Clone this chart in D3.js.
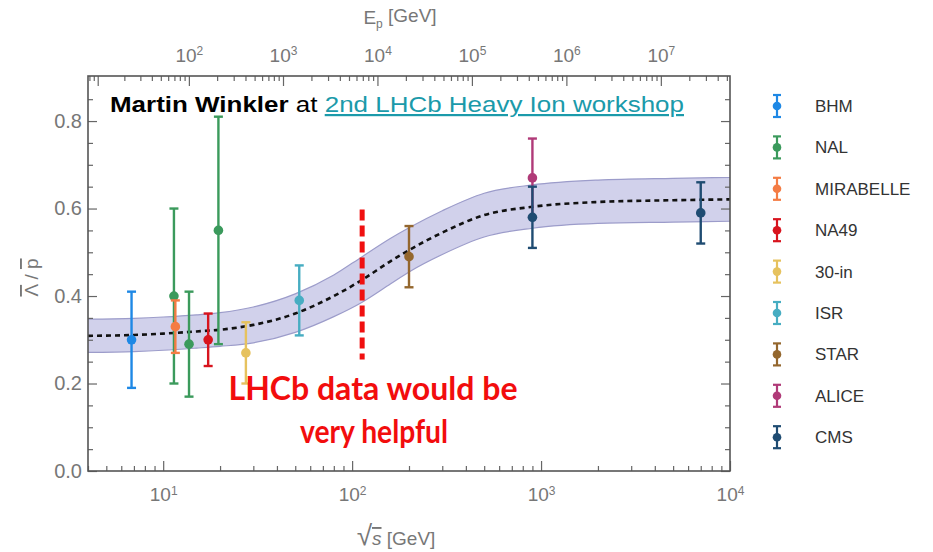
<!DOCTYPE html>
<html>
<head>
<meta charset="utf-8">
<script src="https://cdn.jsdelivr.net/npm/d3@7"></script>
<style>
  body { margin: 0; background: #fff; }
  svg { display: block; font-family: "Liberation Sans", Arial, sans-serif; }
</style>
</head>
<body>
<div id="chart"></div>
<script>
// Experiments (legend order) and their colours
const experiments = ["BHM", "NAL", "MIRABELLE", "NA49", "30-in", "ISR", "STAR", "ALICE", "CMS"];
const expColors = ["#1e88e5", "#3b9a5c", "#f47c44", "#d8141e", "#e6c25e", "#47adc2", "#94672e", "#b03a78", "#1f4c72"];

// Measured points (drawing order)
const pointExp   = ["BHM", "NAL", "MIRABELLE", "NAL", "NA49", "NAL", "30-in", "ISR", "STAR", "ALICE", "CMS", "CMS"];
const pointSqrtS = [6.8, 11.4, 11.6, 13.7, 17.3, 19.6, 27.4, 52.5, 200, 900, 900, 7000];
const pointValue = [0.30, 0.40, 0.33, 0.29, 0.30, 0.55, 0.27, 0.39, 0.49, 0.67, 0.58, 0.59];
const pointErr   = [0.11, 0.20, 0.06, 0.12, 0.06, 0.26, 0.07, 0.08, 0.07, 0.09, 0.07, 0.07];

// Fit curve and its band
const fitSqrtS = [4, 7, 10, 15, 20, 30, 50, 80, 113, 160, 200, 300, 500, 900, 2000, 5000, 10000];
const fitMid   = [0.309, 0.311, 0.314, 0.319, 0.323, 0.334, 0.360, 0.400, 0.437, 0.480, 0.505, 0.545, 0.585, 0.604, 0.615, 0.619, 0.621];
const fitHigh  = [0.347, 0.349, 0.352, 0.357, 0.362, 0.375, 0.405, 0.448, 0.490, 0.532, 0.556, 0.595, 0.635, 0.654, 0.665, 0.669, 0.671];
const fitLow   = [0.271, 0.273, 0.276, 0.281, 0.285, 0.293, 0.317, 0.353, 0.386, 0.428, 0.455, 0.495, 0.535, 0.555, 0.566, 0.569, 0.571];

// LHCb marker
const lhcbSqrtS = 113;
const lhcbRange = [0.255, 0.598];

// Axis ticks
const yTicks = [0, 0.2, 0.4, 0.6, 0.8];
const xTicks = [10, 100, 1000, 10000];
const epTicks = [1e2, 1e3, 1e4, 1e5, 1e6, 1e7];
const protonMass = 0.938;

const width = 933;
const height = 552;
const plot = { left: 88, right: 730, top: 76, bottom: 471 };

const svg = d3.select("#chart")
  .append("svg")
  .attr("width", width)
  .attr("height", height);

// Scales
const x = d3.scaleLog().domain([4, 1e4]).range([plot.left, plot.right]);
const y = d3.scaleLinear().domain([0, 0.903]).range([plot.bottom, plot.top]);
const color = d3.scaleOrdinal().domain(experiments).range(expColors);

// fixed-target beam energy -> sqrt(s)
const epToSqrtS = e => Math.sqrt(2 * protonMass * e + 2 * protonMass * protonMass);

// Band
const fit = fitSqrtS.map((s, i) => ({ s, mid: fitMid[i], lo: fitLow[i], hi: fitHigh[i] }));

svg.append("path")
  .datum(fit)
  .attr("fill", "#c9c9e8")
  .attr("fill-opacity", 0.85)
  .attr("d", d3.area()
    .x(d => x(d.s))
    .y0(d => y(d.lo))
    .y1(d => y(d.hi))
    .curve(d3.curveMonotoneX));

["lo", "hi"].forEach(k => {
  svg.append("path")
    .datum(fit)
    .attr("fill", "none")
    .attr("stroke", "#9c9cca")
    .attr("stroke-width", 1.2)
    .attr("d", d3.line().x(d => x(d.s)).y(d => y(d[k])).curve(d3.curveMonotoneX));
});

svg.append("path")
  .datum(fit)
  .attr("fill", "none")
  .attr("stroke", "#111")
  .attr("stroke-width", 2.6)
  .attr("stroke-dasharray", "5,4")
  .attr("d", d3.line().x(d => x(d.s)).y(d => y(d.mid)).curve(d3.curveMonotoneX));

// Axes (ticks point inwards, Mathematica-style frame)
const minorX = [];
for (let e = 0; e <= 3; e++) {
  for (let m = 1; m < 10; m++) {
    const v = m * Math.pow(10, e);
    if (v >= 4 && v <= 1e4 && m !== 1) minorX.push(v);
  }
}
const minorY = d3.range(0, 0.90, 0.05).filter(v => Math.round(v * 100) % 20 !== 0);

const supFormat = v => "10|" + Math.round(Math.log10(v));

function styleAxis(g) {
  g.select(".domain").remove();
  g.selectAll(".tick line").attr("stroke", "#666").attr("stroke-width", 1.2);
  g.selectAll(".tick text").attr("fill", "#777");
}

function superscript(g) {
  g.selectAll(".tick text").each(function() {
    const [base, exp] = d3.select(this).text().split("|");
    const t = d3.select(this).text("");
    t.append("tspan").text(base);
    t.append("tspan").attr("dy", "-0.55em").attr("font-size", "12px").text(exp);
  });
}

// bottom
svg.append("g")
  .attr("transform", `translate(0,${plot.bottom})`)
  .call(d3.axisBottom(x).tickValues(minorX).tickSize(-5).tickFormat(""))
  .call(styleAxis);
svg.append("g")
  .attr("transform", `translate(0,${plot.bottom})`)
  .call(d3.axisBottom(x).tickValues(xTicks).tickSize(-10).tickPadding(17).tickFormat(supFormat))
  .call(styleAxis)
  .call(superscript)
  .selectAll(".tick text").attr("font-size", "19px");

// left
svg.append("g")
  .attr("transform", `translate(${plot.left},0)`)
  .call(d3.axisLeft(y).tickValues(minorY).tickSize(-5).tickFormat(""))
  .call(styleAxis);
svg.append("g")
  .attr("transform", `translate(${plot.left},0)`)
  .call(d3.axisLeft(y).tickValues(yTicks).tickSize(-9).tickPadding(6).tickFormat(d3.format(".1f")))
  .call(styleAxis)
  .selectAll(".tick text").attr("font-size", "20px");

// right
svg.append("g")
  .attr("transform", `translate(${plot.right},0)`)
  .call(d3.axisRight(y).tickValues(minorY).tickSize(-5).tickFormat(""))
  .call(styleAxis);
svg.append("g")
  .attr("transform", `translate(${plot.right},0)`)
  .call(d3.axisRight(y).tickValues(yTicks).tickSize(-9).tickFormat(""))
  .call(styleAxis);

// top (E_p), drawn through x() after converting to sqrt(s)
const minorEp = [];
for (let e = 0; e <= 7; e++) {
  for (let m = 1; m < 10; m++) {
    const v = m * Math.pow(10, e);
    const s = epToSqrtS(v);
    if (s >= 4 && s <= 1e4) minorEp.push(v);
  }
}
const topAxis = svg.append("g");
topAxis.selectAll(".minor")
  .data(minorEp)
  .join("line")
  .attr("x1", d => x(epToSqrtS(d)))
  .attr("x2", d => x(epToSqrtS(d)))
  .attr("y1", plot.top)
  .attr("y2", d => plot.top + (epTicks.includes(d) || d === 10 ? 10 : 5))
  .attr("stroke", "#666")
  .attr("stroke-width", 1.2);

const topLabels = topAxis.selectAll(".lab")
  .data(epTicks)
  .join("text")
  .attr("x", d => x(epToSqrtS(d)))
  .attr("y", 62)
  .attr("text-anchor", "middle")
  .attr("fill", "#777")
  .attr("font-size", "19px");
topLabels.append("tspan").text("10");
topLabels.append("tspan").attr("dy", "-0.55em").attr("font-size", "12px").text(d => Math.round(Math.log10(d)));

// frame
svg.append("rect")
  .attr("x", plot.left)
  .attr("y", plot.top)
  .attr("width", plot.right - plot.left)
  .attr("height", plot.bottom - plot.top)
  .attr("fill", "none")
  .attr("stroke", "#555")
  .attr("stroke-width", 1.6);

// Axis titles
const yTitle = svg.append("text")
  .attr("transform", `translate(38,${(plot.top + plot.bottom) / 2 + 4}) rotate(-90)`)
  .attr("text-anchor", "middle")
  .attr("fill", "#777")
  .attr("font-size", "19px");
yTitle.append("tspan").style("text-decoration", "overline").text("Λ");
yTitle.append("tspan").text(" / ");
yTitle.append("tspan").style("text-decoration", "overline").text("p");

const xTitle = svg.append("text")
  .attr("x", 396)
  .attr("y", 545)
  .attr("text-anchor", "middle")
  .attr("fill", "#777")
  .attr("font-size", "19px");
xTitle.append("tspan").attr("font-size", "28px").text("√");
xTitle.append("tspan").attr("font-style", "italic").style("text-decoration", "overline").text("s");
xTitle.append("tspan").text("  [GeV]");

const epTitle = svg.append("text")
  .attr("x", 400)
  .attr("y", 24)
  .attr("text-anchor", "middle")
  .attr("fill", "#777")
  .attr("font-size", "19px");
epTitle.append("tspan").text("E");
epTitle.append("tspan").attr("dy", "0.3em").attr("font-size", "12px").text("p");
epTitle.append("tspan").attr("dy", "-0.3em").text(" [GeV]");

// Error bars
const points = pointSqrtS.map((s, i) => ({ exp: pointExp[i], s, v: pointValue[i], e: pointErr[i] }));
const cap = 4.5;

const bars = svg.append("g")
  .selectAll("g")
  .data(points)
  .join("g")
  .attr("stroke", d => color(d.exp))
  .attr("fill", d => color(d.exp))
  .attr("stroke-width", 2.4);

bars.append("line")
  .attr("x1", d => x(d.s)).attr("x2", d => x(d.s))
  .attr("y1", d => y(d.v - d.e)).attr("y2", d => y(d.v + d.e));
bars.append("line")
  .attr("x1", d => x(d.s) - cap).attr("x2", d => x(d.s) + cap)
  .attr("y1", d => y(d.v - d.e)).attr("y2", d => y(d.v - d.e));
bars.append("line")
  .attr("x1", d => x(d.s) - cap).attr("x2", d => x(d.s) + cap)
  .attr("y1", d => y(d.v + d.e)).attr("y2", d => y(d.v + d.e));
bars.append("circle")
  .attr("cx", d => x(d.s)).attr("cy", d => y(d.v))
  .attr("r", 4.8).attr("stroke", "none");

// LHCb dashed marker
svg.append("line")
  .attr("x1", x(lhcbSqrtS)).attr("x2", x(lhcbSqrtS))
  .attr("y1", y(lhcbRange[1])).attr("y2", y(lhcbRange[0]))
  .attr("stroke", "#f01010")
  .attr("stroke-width", 5)
  .attr("stroke-dasharray", "11,5");

// Red note
const note = svg.append("g")
  .attr("fill", "#f20d0d")
  .attr("font-family", "Lato, 'Open Sans', sans-serif")
  .attr("font-weight", "bold")
  .attr("font-size", "33px")
  .attr("text-anchor", "middle");
note.append("text").attr("x", 373).attr("y", 400)
  .attr("textLength", 289).attr("lengthAdjust", "spacingAndGlyphs")
  .text("LHCb data would be");
note.append("text").attr("x", 374).attr("y", 443)
  .attr("textLength", 148).attr("lengthAdjust", "spacingAndGlyphs")
  .text("very helpful");

// Credit line
const credit = svg.append("text")
  .attr("x", 110)
  .attr("y", 112)
  .attr("font-size", "22px")
  .attr("fill", "#000");
credit.append("tspan").attr("font-weight", "bold").text("Martin Winkler");
credit.append("tspan").text(" at ");
credit.append("tspan")
  .attr("fill", "#1b9aaa")
  .style("text-decoration", "underline")
  .text("2nd LHCb Heavy Ion workshop");
credit.attr("textLength", 574).attr("lengthAdjust", "spacingAndGlyphs");

// Legend
const legend = svg.append("g")
  .attr("transform", "translate(777,106)");

const items = legend.selectAll("g")
  .data(experiments)
  .join("g")
  .attr("transform", (d, i) => `translate(0,${i * 41.4})`)
  .attr("stroke", d => color(d))
  .attr("fill", d => color(d))
  .attr("stroke-width", 2.2);

items.append("line").attr("y1", -11).attr("y2", 11);
items.append("line").attr("x1", -4).attr("x2", 4).attr("y1", -11).attr("y2", -11);
items.append("line").attr("x1", -4).attr("x2", 4).attr("y1", 11).attr("y2", 11);
items.append("circle").attr("r", 4.3).attr("stroke", "none");
items.append("text")
  .attr("x", 38)
  .attr("dy", "0.35em")
  .attr("stroke", "none")
  .attr("fill", "#333")
  .attr("font-size", "17px")
  .text(d => d);
</script>
</body>
</html>
